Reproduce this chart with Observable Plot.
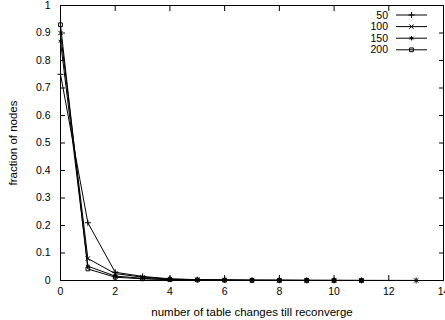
<!DOCTYPE html>
<html><head><meta charset="utf-8">
<script src="https://cdn.jsdelivr.net/npm/d3@7"></script>
<script src="https://cdn.jsdelivr.net/npm/@observablehq/plot@0.6"></script>
<style>
body{margin:0;background:#fff}
#chart svg{font-family:"Liberation Sans",Arial,Helvetica,sans-serif;overflow:visible}
</style>
</head><body><div id="chart"></div>
<script>
// series labels and symbols
const seriesNames = ["50", "100", "150", "200"];
const seriesSymbols = ["plus", "times", "asterisk", "square"];
// x values (number of table changes) for each series
const x50  = [0, 1, 2, 3, 4, 5, 6, 7, 8, 9, 10, 11, 13];
const x100 = [0, 1, 2, 3, 4, 5, 6, 7, 8, 9, 10, 11, 13];
const x150 = [0, 1, 2, 3, 4, 5, 6, 7, 8, 9, 10, 11];
const x200 = [0, 1, 2, 3, 4, 5, 6, 7, 8, 9, 10, 11];
// fraction of nodes
const y50  = [0.75, 0.21, 0.030, 0.015, 0.006, 0.003, 0.002, 0.001, 0.001, 0.0006, 0.0005, 0.0003, 0.0002];
const y100 = [0.90, 0.080, 0.025, 0.012, 0.005, 0.003, 0.002, 0.001, 0.001, 0.0005, 0.0004, 0.0002, 0.0001];
const y150 = [0.87, 0.052, 0.016, 0.008, 0.004, 0.002, 0.001, 0.001, 0.0005, 0.0003, 0.0002, 0.0001];
const y200 = [0.93, 0.042, 0.012, 0.006, 0.003, 0.002, 0.001, 0.0005, 0.0003, 0.0002, 0.0001, 0.0001];
// ticks
const xTicks = [0, 2, 4, 6, 8, 10, 12, 14];
const yTicks = [0, 0.1, 0.2, 0.3, 0.4, 0.5, 0.6, 0.7, 0.8, 0.9, 1];
const xLabel = "number of table changes till reconverge";
const yLabel = "fraction of nodes";

const xsAll = [x50, x100, x150, x200];
const ysAll = [y50, y100, y150, y200];
const rows = [];
seriesNames.forEach((s, i) => xsAll[i].forEach((x, j) => rows.push({series: s, x, y: ysAll[i][j], symbol: seriesSymbols[i]})));

const blank = () => "";
const chart = Plot.plot({
  width: 445, height: 320,
  marginLeft: 60, marginRight: 2, marginTop: 5, marginBottom: 40,
  style: {fontSize: "10.5px", color: "#000", background: "#fff"},
  x: {domain: [0, 14]},
  y: {domain: [0, 1]},
  symbol: {domain: seriesNames, range: seriesSymbols},
  marks: [
    Plot.axisX({ticks: xTicks, tickSize: 0, tickPadding: 7, label: null, fontSize: 10.5}),
    Plot.axisX({ticks: [], tickSize: 0, label: xLabel, labelAnchor: "center", labelArrow: "none", labelOffset: 35, fontSize: 11.5}),
    Plot.axisY({ticks: yTicks, tickSize: 0, tickPadding: 10, tickFormat: d => String(d), label: null, fontSize: 10.5}),
    Plot.axisY({ticks: [], tickSize: 0, label: yLabel, labelAnchor: "center", labelArrow: "none", labelOffset: 52, fontSize: 11.5}),
    Plot.axisX({ticks: xTicks, anchor: "bottom", tickSize: -5, tickFormat: blank, label: null}),
    Plot.axisX({ticks: xTicks, anchor: "top", tickSize: -5, tickFormat: blank, label: null}),
    Plot.axisY({ticks: yTicks, anchor: "left", tickSize: -5, tickFormat: blank, label: null}),
    Plot.axisY({ticks: yTicks, anchor: "right", tickSize: -5, tickFormat: blank, label: null}),
    Plot.line(rows, {x: "x", y: "y", z: "series", stroke: "#000", strokeWidth: 1}),
    Plot.dot(rows, {x: "x", y: "y", symbol: "series", stroke: "#000", fill: "none", r: 2.1, strokeWidth: 1}),
    Plot.frame({stroke: "#000", strokeWidth: 1})
  ]
});
document.getElementById("chart").appendChild(chart);

// legend inside top-right of plot area
const svg = d3.select(chart);
const lg = svg.append("g").attr("font-size", 10.5).attr("fill", "#000");
const symMap = {plus: d3.symbolPlus, times: d3.symbolTimes, asterisk: d3.symbolAsterisk, square: d3.symbolSquare};
seriesNames.forEach((s, i) => {
  const yy = 15 + i * 11.6;
  lg.append("text").attr("x", 388).attr("y", yy).attr("dy", "0.35em").attr("text-anchor", "end").text(s);
  lg.append("line").attr("x1", 396).attr("x2", 427).attr("y1", yy).attr("y2", yy).attr("stroke", "#000");
  lg.append("path").attr("transform", `translate(411.5,${yy})`)
    .attr("d", d3.symbol(symMap[seriesSymbols[i]], 14)())
    .attr("stroke", "#000").attr("fill", "none");
});
</script>
</body></html>
